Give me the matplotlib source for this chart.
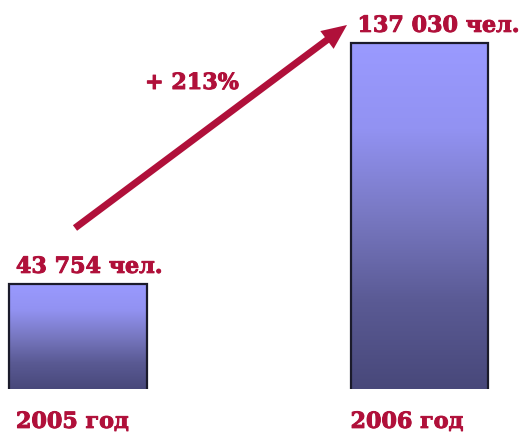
import matplotlib.pyplot as plt
import matplotlib.patheffects as pe
import numpy as np
from matplotlib.colors import LinearSegmentedColormap
from matplotlib.patches import FancyArrowPatch

# data
years = ['2005 год', '2006 год']
people = [43754, 137030]
value_labels = ['43 754 чел.', '137 030 чел.']
growth_label = '+ 213%'

red = '#B0103A'
font = 'DejaVu Serif'
heavy = [pe.withStroke(linewidth=0.7, foreground=red)]

W, H, DPI = 522, 434, 100
fig = plt.figure(figsize=(W / DPI, H / DPI), dpi=DPI)
fig.patch.set_facecolor('white')

# axes: bars stand on the bottom edge at 45 px from the bottom
ax = fig.add_axes([0, 45 / H, 1, 1 - 45 / H])
ax.set_xlim(-0.2284, 1.3001)
ax.set_ylim(3100, 153650)
ax.axis('off')

# gradient for the bars (light on top, dark at bottom)
grad = LinearSegmentedColormap.from_list('bar', [
    (0.0, '#48487A'),
    (0.25, '#5A5A94'),
    (0.5, '#7878C2'),
    (0.75, '#9292F2'),
    (1.0, '#9A9AFF'),
])

x = np.arange(len(people))
width = 0.404
bars = ax.bar(x, people, width=width, bottom=0, color='none',
              edgecolor='#1B1B2B', linewidth=1.6, zorder=3)
for b in bars:
    x0, w = b.get_x(), b.get_width()
    y1 = b.get_height()
    y0 = ax.get_ylim()[0]
    g = np.linspace(0, 1, 256).reshape(-1, 1)
    im = ax.imshow(g, cmap=grad, origin='lower', aspect='auto',
                   extent=[x0, x0 + w, y0, y1], zorder=2)
    im.set_clip_path(b)

# value labels above the bars, category labels under them
year_dx = [5, 0]
for b, lab, yr, dx in zip(bars, value_labels, years, year_dx):
    ax.annotate(lab, xy=(b.get_x(), b.get_height()), xytext=(5, 8),
                textcoords='offset points', ha='left', va='baseline',
                fontsize=16, fontweight='bold', family=font, color=red,
                annotation_clip=False, path_effects=heavy)
    ax.annotate(yr, xy=(b.get_x(), ax.get_ylim()[0]), xytext=(dx, -28),
                textcoords='offset points', ha='left', va='baseline',
                fontsize=16, fontweight='bold', family=font, color=red,
                annotation_clip=False, path_effects=heavy)

# growth arrow
arrow = FancyArrowPatch((75 / W, 206 / H), (347 / W, 409 / H),
                        transform=fig.transFigure,
                        arrowstyle='simple,head_length=18,head_width=16,tail_width=5',
                        mutation_scale=1, lw=0, color=red,
                        shrinkA=0, shrinkB=0)
fig.patches.append(arrow)

fig.text(145 / W, 1 - 83 / H, growth_label, ha='left', va='center',
         fontsize=16, fontweight='bold', family=font, color=red,
         path_effects=heavy)

fig.savefig('out.png', dpi=DPI)
